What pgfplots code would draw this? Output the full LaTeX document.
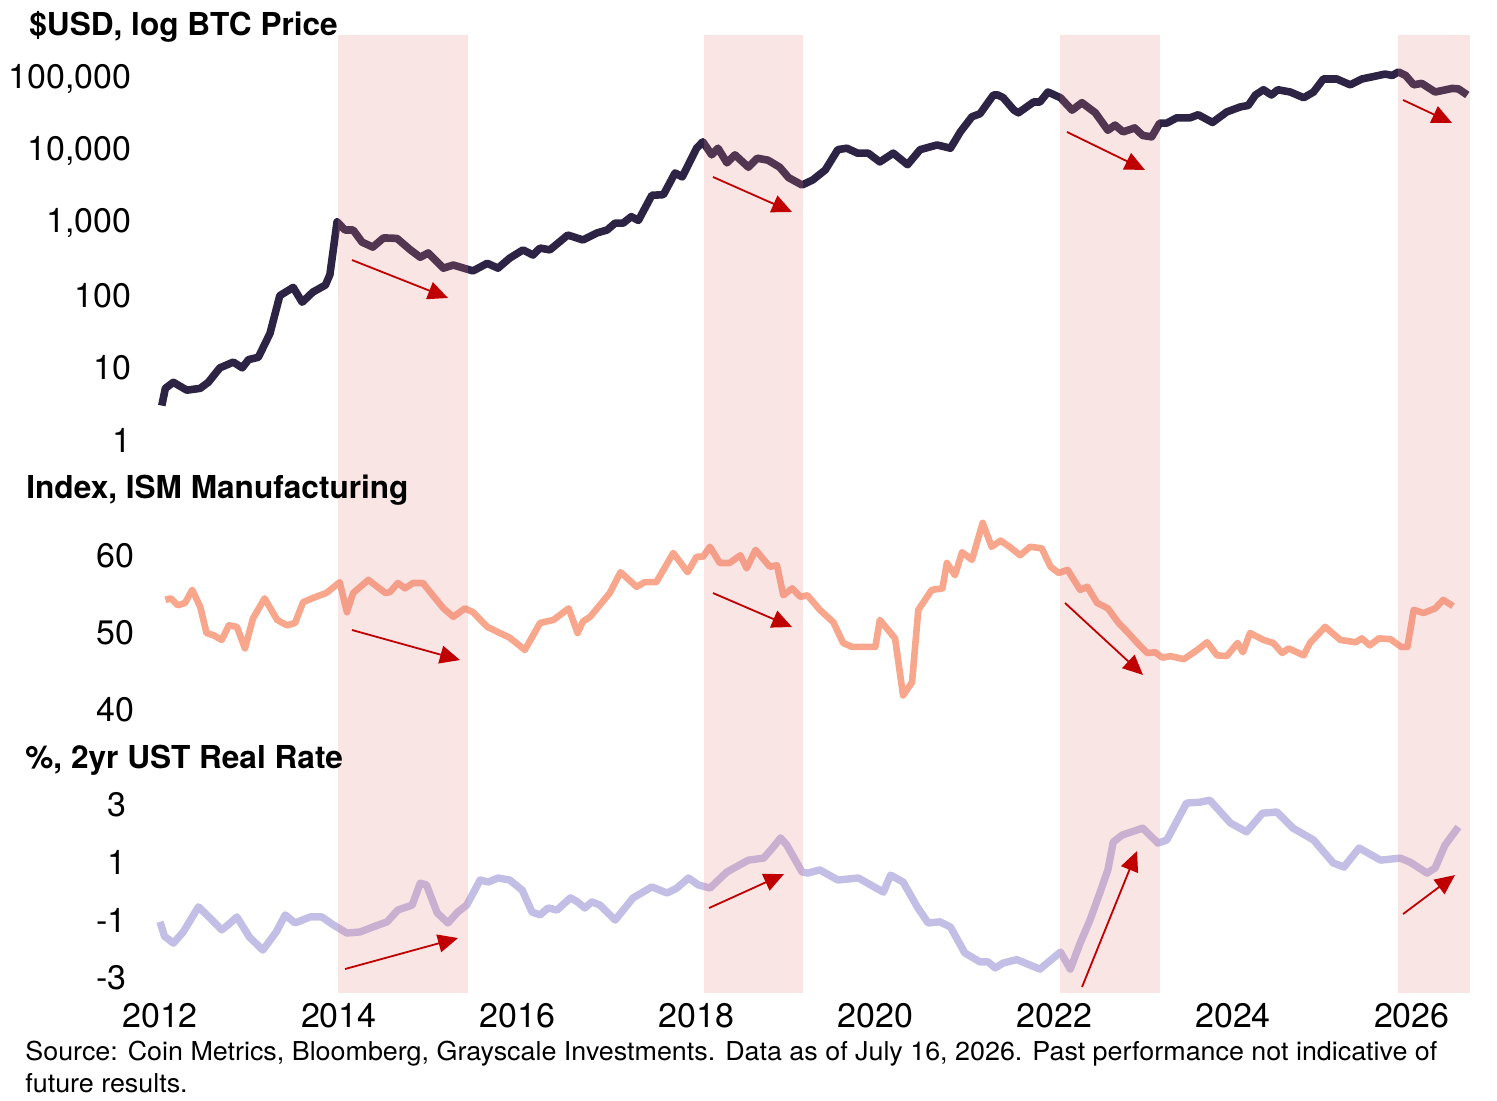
\documentclass[border=0pt]{standalone}
\usepackage{pgfplots}
\usepackage{pgfplotstable}
\pgfplotsset{compat=1.18}
\usepackage{fontspec}
\setmainfont{TeX Gyre Heros}
\usetikzlibrary{arrows.meta}
\definecolor{btc}{HTML}{2D2445}
\definecolor{ism}{HTML}{F8A68C}
\definecolor{rate}{HTML}{C3BEE6}
\definecolor{arr}{HTML}{C00000}
\definecolor{shadecol}{HTML}{E87C7C}

\pgfplotstableread{
x y
2012.02 3.0
2012.06 5.2
2012.15 6.3
2012.30 4.9
2012.45 5.2
2012.54 6.3
2012.67 10
2012.82 12
2012.92 10
2012.99 13
2013.10 14
2013.23 30
2013.34 100
2013.49 130
2013.59 81
2013.71 112
2013.85 140
2013.90 195
2013.98 1050
2014.07 810
2014.16 810
2014.26 550
2014.38 470
2014.50 630
2014.65 620
2014.80 430
2014.91 340
2015.00 390
2015.17 240
2015.28 265
2015.50 220
2015.66 280
2015.78 240
2015.91 330
2016.06 430
2016.17 365
2016.25 455
2016.36 430
2016.56 690
2016.73 590
2016.89 740
2017.00 810
2017.09 1010
2017.18 1010
2017.27 1240
2017.35 1100
2017.50 2450
2017.63 2500
2017.76 5000
2017.84 4400
2018.00 11000
2018.07 13500
2018.17 8900
2018.24 11000
2018.34 6900
2018.43 8900
2018.58 6000
2018.68 8000
2018.80 7500
2018.93 6000
2019.03 4300
2019.18 3400
2019.30 4000
2019.44 5500
2019.58 10500
2019.68 11000
2019.80 9400
2019.92 9400
2020.05 7100
2020.20 9400
2020.36 6500
2020.50 10500
2020.69 12200
2020.84 11000
2020.95 18500
2021.08 30000
2021.17 33000
2021.32 60000
2021.37 60000
2021.43 55000
2021.55 37000
2021.60 34000
2021.77 48000
2021.84 48000
2021.93 66000
2022.07 55000
2022.20 37000
2022.31 47000
2022.46 34000
2022.60 19500
2022.68 23000
2022.77 18500
2022.90 21000
2022.99 16500
2023.09 15800
2023.18 24500
2023.26 24500
2023.37 29000
2023.52 29000
2023.61 32000
2023.77 25000
2023.93 35000
2024.08 41000
2024.17 43000
2024.25 60000
2024.34 71000
2024.43 60000
2024.50 71000
2024.64 66000
2024.79 55000
2024.90 66000
2025.01 100000
2025.16 100000
2025.31 83000
2025.44 100000
2025.57 108000
2025.70 117000
2025.78 112000
2025.85 125000
2025.93 112000
2026.02 83000
2026.11 87000
2026.26 66000
2026.45 74000
2026.52 73000
2026.62 60000
}\btcdata

\pgfplotstableread{
x y
2012.06 54.3
2012.12 54.5
2012.20 53.6
2012.28 53.9
2012.36 55.6
2012.45 53.4
2012.52 50.0
2012.60 49.7
2012.69 49.1
2012.77 51.0
2012.86 50.8
2012.95 48.0
2013.04 51.9
2013.17 54.5
2013.31 51.7
2013.42 51.0
2013.51 51.3
2013.60 54.0
2013.70 54.5
2013.79 54.9
2013.86 55.2
2014.01 56.6
2014.09 52.7
2014.16 55.2
2014.33 56.9
2014.52 55.2
2014.57 55.3
2014.66 56.5
2014.74 55.8
2014.83 56.5
2014.94 56.5
2015.05 54.9
2015.17 53.2
2015.28 52.1
2015.41 53.2
2015.50 52.7
2015.66 50.8
2015.80 50.0
2015.91 49.4
2016.08 47.8
2016.25 51.3
2016.40 51.7
2016.57 53.2
2016.67 50.0
2016.73 51.5
2016.81 52.1
2017.03 55.2
2017.15 57.9
2017.33 56.0
2017.42 56.6
2017.55 56.6
2017.74 60.4
2017.90 57.9
2018.00 59.9
2018.07 59.9
2018.15 61.2
2018.26 59.1
2018.37 59.1
2018.49 60.1
2018.56 58.4
2018.66 60.8
2018.82 58.6
2018.90 58.8
2018.97 54.9
2019.07 55.8
2019.16 54.7
2019.24 54.9
2019.38 53.0
2019.53 51.4
2019.64 48.7
2019.74 48.2
2019.94 48.2
2020.00 48.2
2020.05 51.7
2020.22 49.3
2020.31 41.9
2020.41 43.6
2020.48 53.0
2020.63 55.6
2020.75 55.8
2020.80 59.1
2020.89 57.5
2020.97 60.5
2021.08 59.5
2021.20 64.3
2021.30 61.2
2021.40 62.0
2021.50 61.2
2021.62 60.1
2021.73 61.2
2021.86 61.0
2021.96 58.6
2022.05 57.8
2022.15 58.2
2022.29 55.6
2022.37 56.0
2022.48 53.9
2022.60 53.2
2022.72 51.3
2022.82 50.1
2022.93 48.7
2023.04 47.4
2023.13 47.5
2023.21 46.8
2023.30 47.0
2023.45 46.6
2023.60 47.8
2023.71 48.8
2023.82 47.1
2023.93 47.0
2024.05 48.7
2024.11 47.5
2024.19 50.0
2024.34 49.1
2024.45 48.7
2024.55 47.4
2024.62 48.0
2024.79 47.1
2024.86 48.7
2025.03 50.8
2025.20 49.1
2025.37 48.8
2025.44 49.3
2025.53 48.4
2025.63 49.3
2025.76 49.2
2025.88 48.2
2025.95 48.2
2026.02 53.0
2026.13 52.6
2026.26 53.2
2026.35 54.3
2026.46 53.5
}\ismdata

\pgfplotstableread{
x y
2012.00 -1.05
2012.05 -1.55
2012.15 -1.79
2012.26 -1.40
2012.43 -0.53
2012.56 -0.92
2012.69 -1.33
2012.76 -1.16
2012.86 -0.88
2013.00 -1.58
2013.15 -2.03
2013.30 -1.40
2013.40 -0.81
2013.51 -1.09
2013.68 -0.88
2013.81 -0.88
2013.94 -1.16
2014.09 -1.44
2014.24 -1.40
2014.38 -1.23
2014.54 -1.05
2014.66 -0.64
2014.82 -0.47
2014.91 0.29
2014.98 0.23
2015.10 -0.74
2015.22 -1.09
2015.33 -0.71
2015.43 -0.47
2015.58 0.40
2015.67 0.33
2015.78 0.47
2015.91 0.40
2016.05 0.05
2016.16 -0.71
2016.25 -0.81
2016.34 -0.57
2016.44 -0.64
2016.59 -0.22
2016.67 -0.36
2016.75 -0.57
2016.83 -0.36
2016.92 -0.47
2017.09 -0.99
2017.29 -0.22
2017.50 0.16
2017.67 -0.05
2017.78 0.12
2017.91 0.47
2018.02 0.23
2018.15 0.12
2018.34 0.68
2018.58 1.09
2018.75 1.16
2018.85 1.51
2018.94 1.86
2019.01 1.61
2019.18 0.68
2019.24 0.64
2019.38 0.75
2019.58 0.40
2019.81 0.47
2020.09 -0.02
2020.17 0.57
2020.31 0.33
2020.47 -0.54
2020.59 -1.09
2020.72 -1.05
2020.84 -1.23
2021.00 -2.13
2021.17 -2.44
2021.26 -2.44
2021.34 -2.65
2021.43 -2.48
2021.58 -2.36
2021.84 -2.69
2022.07 -2.10
2022.18 -2.69
2022.29 -1.79
2022.40 -0.99
2022.51 -0.05
2022.60 0.75
2022.66 1.72
2022.76 1.96
2022.99 2.20
2023.16 1.68
2023.26 1.79
2023.48 3.07
2023.63 3.10
2023.74 3.17
2023.97 2.38
2024.15 2.07
2024.33 2.72
2024.49 2.76
2024.67 2.20
2024.90 1.79
2025.12 0.99
2025.24 0.85
2025.41 1.51
2025.65 1.09
2025.87 1.16
2025.98 1.02
2026.17 0.64
2026.26 0.82
2026.37 1.61
2026.52 2.24
}\ratedata

\newcommand\shades{%
  \fill[shadecol, opacity=0.2] ({axis cs:2013.991,1} |- {rel axis cs:0,0}) rectangle ({axis cs:2015.444,1} |- {rel axis cs:0,1});
  \fill[shadecol, opacity=0.2] ({axis cs:2018.084,1} |- {rel axis cs:0,0}) rectangle ({axis cs:2019.191,1} |- {rel axis cs:0,1});
  \fill[shadecol, opacity=0.2] ({axis cs:2022.065,1} |- {rel axis cs:0,0}) rectangle ({axis cs:2023.183,1} |- {rel axis cs:0,1});
  \fill[shadecol, opacity=0.2] ({axis cs:2025.845,1} |- {rel axis cs:0,0}) rectangle ({axis cs:2026.65,1} |- {rel axis cs:0,1});
}

\pgfplotsset{
  base/.style={
    scale only axis, width=655pt, xmin=2012, xmax=2026.65,
    axis line style={draw=none}, major tick length=0pt, tick style={draw=none},
    clip=false, anchor=north west, xtick=\empty,
    ticklabel style={font=\fontsize{17}{20}\selectfont},
    yticklabel style={anchor=east, inner sep=0pt},
  },
}
\tikzset{arrowst/.style={draw=arr, line width=0.9pt, -{Triangle[length=10pt,width=9pt]}}}

\begin{document}
\begin{tikzpicture}
\path[use as bounding box] (0,0) rectangle (748.5pt,-550pt);

% BTC panel
\begin{axis}[base, at={(80pt,-17.5pt)}, height=215pt,
  ymode=log, ymin=0.4508, ymax=406400,
  ytick={1,10,100,1000,10000,100000},
  yticklabels={1,10,100,{1,000},{10,000},{100,000}},
  yticklabel style={xshift=-14pt}]
\addplot[btc, line width=3.8pt, line join=round] table[x=x,y=y] {\btcdata};
\shades
\draw[arrowst] (axis cs:2014.147,311) -- (axis cs:2015.221,92.7);
\draw[arrowst] (axis cs:2018.184,4395) -- (axis cs:2019.068,1439);
\draw[arrowst] (axis cs:2022.143,18450) -- (axis cs:2023.015,5495);
\draw[arrowst] (axis cs:2025.901,51170) -- (axis cs:2026.449,24600);
\end{axis}

% ISM panel
\begin{axis}[base, at={(80pt,-232.5pt)}, height=135pt,
  ymin=36.75, ymax=71.82,
  ytick={40,50,60}, yticklabels={40,50,60},
  yticklabel style={xshift=-12.5pt}]
\addplot[ism, line width=3.3pt, line join=round] table[x=x,y=y] {\ismdata};
\shades
\draw[arrowst] (axis cs:2014.147,50.39) -- (axis cs:2015.355,46.49);
\draw[arrowst] (axis cs:2018.184,55.19) -- (axis cs:2019.068,50.78);
\draw[arrowst] (axis cs:2022.121,53.90) -- (axis cs:2022.993,44.55);
\end{axis}

% Real rate panel
\begin{axis}[base, at={(80pt,-367.5pt)}, height=129pt,
  ymin=-3.52, ymax=5.43,
  ytick={-3,-1,1,3}, yticklabels={-3,-1,1,3},
  yticklabel style={xshift=-16.5pt},
  xtick={2012,2014,2016,2018,2020,2022,2024,2026},
  xticklabels={2012,2014,2016,2018,2020,2022,2024,2026},
  xticklabel style={anchor=north, inner sep=0pt, yshift=-5pt}]
\addplot[rate, line width=3.7pt, line join=round] table[x=x,y=y] {\ratedata};
\shades
\draw[arrowst] (axis cs:2014.069,-2.688) -- (axis cs:2015.333,-1.613);
\draw[arrowst] (axis cs:2018.140,-0.572) -- (axis cs:2018.978,0.607);
\draw[arrowst] (axis cs:2022.311,-3.312) -- (axis cs:2022.926,1.405);
\draw[arrowst] (axis cs:2025.901,-0.780) -- (axis cs:2026.482,0.572);
\end{axis}

% titles
\node[anchor=base west, inner sep=0pt, font=\fontsize{15.8}{19}\selectfont\bfseries] at (14.5pt,-17.5pt) {\$USD, log BTC Price};
\node[anchor=base west, inner sep=0pt, font=\fontsize{15.8}{19}\selectfont\bfseries] at (13pt,-249pt) {Index, ISM Manufacturing};
\node[anchor=base west, inner sep=0pt, font=\fontsize{15.8}{19}\selectfont\bfseries] at (12.5pt,-384pt) {\%, 2yr UST Real Rate};

% source
\node[anchor=base west, inner sep=0pt] at (12.5pt,-530pt) {\resizebox{706pt}{\height}{\fontsize{13}{16}\selectfont\begin{tabular}[t]{@{}l@{}}Source: Coin Metrics, Bloomberg, Grayscale Investments. Data as of July 16, 2026. Past performance not indicative of\\ future results.\end{tabular}}};
\end{tikzpicture}
\end{document}
